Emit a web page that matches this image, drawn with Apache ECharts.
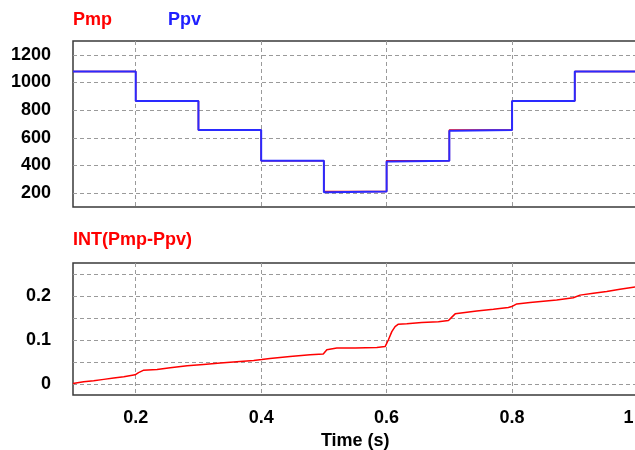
<!DOCTYPE html>
<html>
<head>
<meta charset="utf-8">
<script src="https://cdn.jsdelivr.net/npm/echarts/dist/echarts.min.js"></script>
<style>
  html, body { margin: 0; padding: 0; background: #ffffff; }
  #chart { width: 635px; height: 450px; }
</style>
</head>
<body>
<div id="chart"></div>
<script>
// Maximum available power (step changes every 0.1 s)
const pmpTimes  = [0.1, 0.2, 0.3, 0.4, 0.5, 0.6, 0.7, 0.8, 0.9, 1.0];
const pmpLevels = [1080, 867, 657, 434, 212, 434, 657, 867, 1080, 1080];

// Extracted PV power, with the short tracking lag after some steps
const ppvTimes  = [0.1, 0.2, 0.3, 0.4, 0.5, 0.506, 0.6, 0.608, 0.7, 0.706, 0.8, 0.9, 1.0];
const ppvLevels = [1080, 867, 657, 434, 206, 212, 429, 434, 651, 657, 867, 1080, 1080];

// Integrated power difference INT(Pmp-Ppv)
const intTimes = [0.100, 0.117, 0.133, 0.149, 0.165, 0.181, 0.199, 0.2045, 0.212, 0.234,
                  0.255, 0.282, 0.308, 0.335, 0.361, 0.388, 0.401, 0.414, 0.446, 0.478,
                  0.499, 0.5047, 0.5206, 0.5498, 0.5844, 0.5976, 0.6029, 0.6083, 0.6135, 0.6188,
                  0.6322, 0.6561, 0.6826, 0.6986, 0.704, 0.7093, 0.7119, 0.7437, 0.7702, 0.7941,
                  0.7995, 0.8075, 0.8287, 0.8499, 0.8712, 0.8977, 0.9083, 0.9296, 0.9509, 0.972,
                  0.9933, 1.0];
const intValues = [0.001, 0.005, 0.0075, 0.0105, 0.0136, 0.0166, 0.021, 0.026, 0.031, 0.033,
                   0.037, 0.0415, 0.0445, 0.0476, 0.0506, 0.0535, 0.0555, 0.058, 0.0626, 0.0665,
                   0.068, 0.078, 0.0816, 0.0816, 0.083, 0.085, 0.1005, 0.119, 0.1306, 0.136,
                   0.1368, 0.1397, 0.1413, 0.1443, 0.152, 0.1594, 0.1624, 0.166, 0.170, 0.1737,
                   0.176, 0.182, 0.185, 0.188, 0.191, 0.196, 0.202, 0.206, 0.210, 0.2155,
                   0.22, 0.221];

// Tick positions (grid lines) and labelled ticks
const timeTicks     = [0.2, 0.4, 0.6, 0.8, 1.0];
const powerTicks    = [200, 400, 600, 800, 1000, 1200];
const intGridTicks  = [0, 0.05, 0.1, 0.15, 0.2, 0.25];
const intLabelTicks = [0, 0.1, 0.2];

const zip = (xs, ys) => xs.map((x, i) => [x, ys[i]]);

const FONT = "'Liberation Sans', Arial, sans-serif";
const labelStyle = { fontFamily: FONT, fontWeight: 'bold', fontSize: 18, color: '#000' };
const gridDash = { color: '#9a9a9a', width: 1, type: [4, 3] };

const chart = echarts.init(document.getElementById('chart'), null, { renderer: 'canvas' });

chart.setOption({
  animation: false,
  backgroundColor: '#ffffff',
  graphic: [
    { type: 'text', left: 73, top: 11, style: { text: 'Pmp', fill: '#ff0000', font: 'bold 18px ' + FONT } },
    { type: 'text', left: 168, top: 11, style: { text: 'Ppv', fill: '#2020ff', font: 'bold 18px ' + FONT } },
    { type: 'text', left: 73, top: 231, style: { text: 'INT(Pmp-Ppv)', fill: '#ff0000', font: 'bold 18px ' + FONT } }
  ],
  grid: [
    { left: 73, top: 41, width: 564.5, height: 166, show: true, borderColor: '#3a3a3a', borderWidth: 1.5,
      outerBoundsMode: 'none', containLabel: false },
    { left: 73, top: 263, width: 564.5, height: 132, show: true, borderColor: '#3a3a3a', borderWidth: 1.5,
      outerBoundsMode: 'none', containLabel: false }
  ],
  xAxis: [
    {
      gridIndex: 0, type: 'value', min: 0.1, max: 1.0,
      axisLine: { show: false },
      axisTick: { show: false, customValues: timeTicks },
      axisLabel: { show: false, customValues: timeTicks },
      splitLine: { show: true, lineStyle: gridDash }
    },
    {
      gridIndex: 1, type: 'value', min: 0.1, max: 1.0,
      axisLine: { show: false },
      axisTick: { show: false, customValues: timeTicks },
      axisLabel: Object.assign({
        margin: 14, customValues: timeTicks, alignMaxLabel: 'right',
        formatter: v => (v === 1 ? '{last|1}' : String(v)),
        rich: { last: Object.assign({ padding: [0, 4, 0, 0] }, labelStyle) }
      }, labelStyle),
      splitLine: { show: true, lineStyle: gridDash },
      name: 'Time (s)', nameLocation: 'middle', nameGap: 37,
      nameTextStyle: labelStyle
    }
  ],
  yAxis: [
    {
      gridIndex: 0, type: 'value', min: 100, max: 1300,
      axisLine: { show: false },
      axisTick: { show: false, customValues: powerTicks },
      axisLabel: Object.assign({ margin: 22, customValues: powerTicks, formatter: v => String(v) }, labelStyle),
      splitLine: { show: true, lineStyle: gridDash }
    },
    {
      gridIndex: 1, type: 'value', min: -0.025, max: 0.275,
      axisLine: { show: false },
      axisTick: { show: false, customValues: intGridTicks },
      axisLabel: Object.assign({ margin: 22, customValues: intLabelTicks, formatter: v => String(v) }, labelStyle),
      splitLine: { show: true, lineStyle: gridDash }
    }
  ],
  series: [
    {
      name: 'Pmp', type: 'line', xAxisIndex: 0, yAxisIndex: 0, step: 'end',
      data: zip(pmpTimes, pmpLevels), showSymbol: false,
      lineStyle: { color: '#ff0000', width: 1.5 }
    },
    {
      name: 'Ppv', type: 'line', xAxisIndex: 0, yAxisIndex: 0, step: 'end',
      data: zip(ppvTimes, ppvLevels), showSymbol: false,
      lineStyle: { color: '#2a2aff', width: 2 }
    },
    {
      name: 'INT(Pmp-Ppv)', type: 'line', xAxisIndex: 1, yAxisIndex: 1,
      data: zip(intTimes, intValues), showSymbol: false,
      lineStyle: { color: '#ff0000', width: 1.5 }
    }
  ]
});
</script>
</body>
</html>
